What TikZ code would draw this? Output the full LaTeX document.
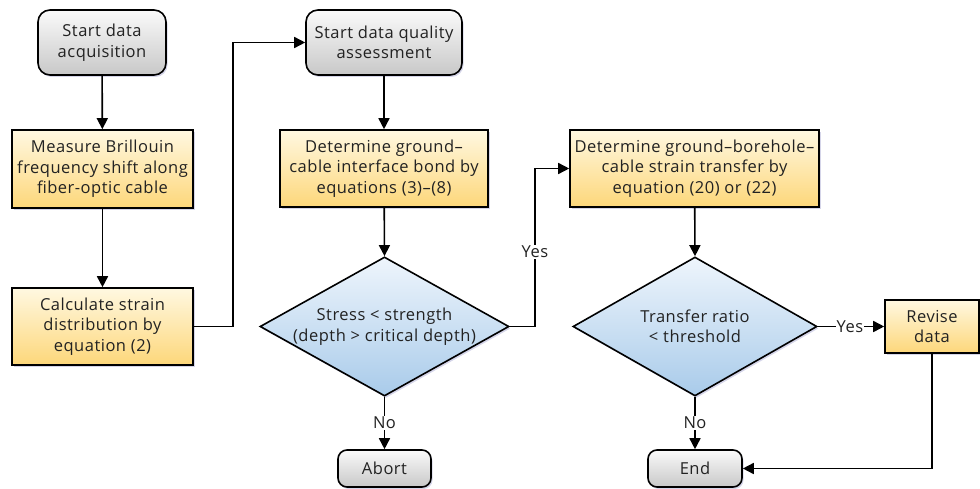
\documentclass[tikz,border=0pt]{standalone}
\usepackage{fontspec}
\setmainfont{Open Sans}[LetterSpace=3]
\usetikzlibrary{arrows.meta,shapes.geometric,shadows,positioning}
\definecolor{txt}{HTML}{222222}
\definecolor{ytop}{HTML}{FFF8E1}
\definecolor{ybot}{HTML}{FDD77A}
\definecolor{gtop}{HTML}{FAFAFA}
\definecolor{gbot}{HTML}{C8C8C8}
\definecolor{btop}{HTML}{EEF5FC}
\definecolor{bbot}{HTML}{A9CBEA}
\tikzset{
  base/.style={draw=black, line width=1.6pt, text=txt, align=center, font=\fontsize{16.5}{20.5}\selectfont,
    drop shadow={shadow xshift=1.5pt, shadow yshift=-2pt, fill=blue!30!gray, opacity=0.25}},
  term/.style={base, rounded corners=12pt, top color=gtop, bottom color=gbot, inner sep=0pt},
  proc/.style={base, top color=ytop, bottom color=ybot, inner sep=0pt},
  dec/.style={base, diamond, top color=btop, bottom color=bbot, inner sep=0pt},
  conn/.style={line width=1.6pt, -{Triangle[length=11pt,width=11pt]}},
  lbl/.style={fill=white, text=txt, font=\fontsize{16.5}{20.5}\selectfont, inner sep=1pt}
}
\begin{document}
\begin{tikzpicture}[x=1pt,y=-1pt]
\useasboundingbox (0,0) rectangle (980,489);
% nodes
\node[term, minimum width=128pt, minimum height=65pt] (s1) at (102,42.5) {Start data\\acquisition};
\node[proc, minimum width=181pt, minimum height=78pt] (m) at (102.5,169) {Measure Brillouin\\frequency shift along\\fiber-optic cable};
\node[proc, minimum width=181pt, minimum height=77pt] (c) at (102.5,326.5) {Calculate strain\\distribution by\\equation (2)};
\node[term, minimum width=156pt, minimum height=65pt] (s2) at (384,42.5) {Start data quality\\assessment};
\node[proc, minimum width=208pt, minimum height=77pt] (g) at (384,168.5) {Determine ground--\\cable interface bond by\\equations (3)--(8)};
\node[proc, minimum width=249pt, minimum height=77pt] (b) at (694.5,168.5) {Determine ground--borehole--\\cable strain transfer by\\equation (20) or (22)};
\node[dec, minimum width=245pt, minimum height=137pt, aspect=1.79] (d1) at (384.5,326.5) {Stress < strength\\(depth > critical depth)};
\node[dec, minimum width=244pt, minimum height=139pt, aspect=1.76] (d2) at (695,326.5) {Transfer ratio\\< threshold};
\node[proc, minimum width=94pt, minimum height=53pt] (r) at (932,326.5) {Revise\\data};
\node[term, minimum width=93pt, minimum height=37pt, rounded corners=9pt] (a) at (384.5,468.5) {Abort};
\node[term, minimum width=94pt, minimum height=37pt, rounded corners=9pt] (e) at (695,468.5) {End};
% connectors
\draw[conn] (s1) -- (m);
\draw[conn] (m) -- (c);
\coordinate (k1) at (233,326.5);
\coordinate (k2) at (233,42.5);
\draw[conn] (c.east) -- (k1) -- (k2) -- (s2.west);
\draw[conn] (s2) -- (g);
\draw[conn] (g) -- (d1.north);
\coordinate (k3) at (535,326.5);
\coordinate (k4) at (535,168.5);
\draw[conn] (d1.east) -- (k3) -- (k4) -- (b.west);
\node[lbl] (y1) at (535,252) {Yes};
\draw[conn] (b) -- (d2.north);
\draw[conn] (d2.east) -- (r.west);
\node[lbl] (y2) at (850,326.5) {Yes};
\draw[conn] (d1.south) -- (a.north);
\node[lbl] (n1) at (384.5,423) {No};
\draw[conn] (d2.south) -- (e.north);
\node[lbl] (n2) at (695,423) {No};
\coordinate (k5) at (932,468.5);
\draw[conn] (r.south) -- (k5) -- (e.east);
\end{tikzpicture}
\end{document}
